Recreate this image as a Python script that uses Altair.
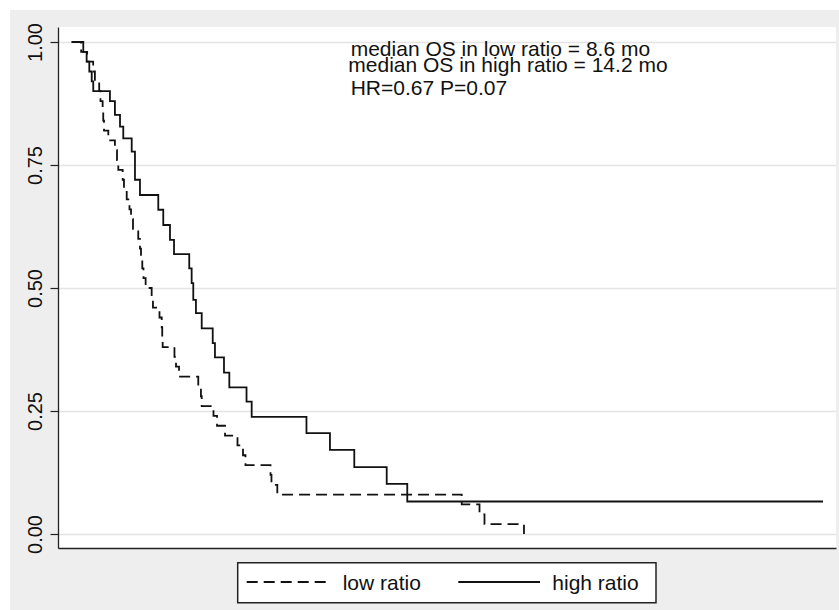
import altair as alt
import pandas as pd

# Kaplan-Meier overall survival, months since start, by ratio group
HIGH_MONTHS = [0, 1.35, 1.74, 2.05, 2.33, 2.51, 4.45, 5.03, 5.62, 6.0,
               6.98, 7.36, 7.94, 10.07, 10.65, 11.43, 11.9, 13.67, 13.95, 14.14,
               14.45, 15.12, 16.4, 16.66, 17.71, 18.33, 20.33, 20.93, 27.3, 30.03,
               32.86, 36.63, 39.02, 87.36]
HIGH_SURV = [1.0, 0.98, 0.96, 0.94, 0.92, 0.90, 0.88, 0.852, 0.828, 0.804,
             0.777, 0.72, 0.689, 0.659, 0.628, 0.598, 0.569, 0.54, 0.51, 0.476,
             0.449, 0.418, 0.388, 0.359, 0.328, 0.298, 0.269, 0.238, 0.205, 0.171,
             0.136, 0.102, 0.066, 0.066]

LOW_MONTHS = [0, 1.1, 1.8, 2.5, 2.7, 3.2, 3.35, 3.6, 3.67, 3.76,
              4.26, 5.03, 5.27, 5.42, 5.93, 6.08, 6.4, 6.72, 6.9, 7.13,
              7.74, 7.94, 8.06, 8.21, 8.35, 8.6, 9.3, 9.45, 10.21, 10.47,
              10.53, 10.58, 11.95, 12.13, 12.48, 14.72, 15.03, 15.12, 16.49, 16.9,
              17.83, 19.28, 19.92, 20.21, 23.12, 23.23, 23.91, 45.35, 47.42, 48.0,
              52.59]
LOW_SURV = [1.0, 0.98, 0.96, 0.94, 0.92, 0.90, 0.88, 0.86, 0.84, 0.82,
            0.80, 0.78, 0.76, 0.74, 0.72, 0.70, 0.68, 0.66, 0.64, 0.62,
            0.60, 0.58, 0.56, 0.54, 0.52, 0.50, 0.48, 0.46, 0.44, 0.42,
            0.40, 0.38, 0.36, 0.34, 0.32, 0.30, 0.28, 0.26, 0.24, 0.22,
            0.20, 0.18, 0.16, 0.14, 0.12, 0.10, 0.08, 0.06, 0.04, 0.02,
            0.0]

GROUPS = ["low ratio", "high ratio"]
DASHES = [[11, 6], [1, 0]]
Y_TICKS = [0, 0.25, 0.5, 0.75, 1.0]
NOTES = [
    "median OS in low ratio = 8.6 mo",
    "median OS in high ratio = 14.2 mo",
    "HR=0.67 P=0.07",
]

FONT = "Liberation Sans"
INK = "#111111"
AXIS_INK = "#222222"
W, H = 778, 521

df = pd.concat([
    pd.DataFrame({"months": LOW_MONTHS, "survival": LOW_SURV, "group": GROUPS[0]}),
    pd.DataFrame({"months": HIGH_MONTHS, "survival": HIGH_SURV, "group": GROUPS[1]}),
], ignore_index=True)

curves = alt.Chart(df).mark_line(
    interpolate="step-after", strokeWidth=1.8, color=INK
).encode(
    x=alt.X(
        "months:Q",
        scale=alt.Scale(domain=[-1.59, 88.87], nice=False, zero=False),
        axis=alt.Axis(title=None, labels=False, ticks=False, grid=False,
                      domainColor=AXIS_INK, domainWidth=1.3),
    ),
    y=alt.Y(
        "survival:Q",
        scale=alt.Scale(domain=[-0.0285, 1.0305], nice=False, zero=False),
        axis=alt.Axis(
            title=None, values=Y_TICKS, format=".2f",
            labelAngle=-90, labelAlign="center", labelBaseline="bottom",
            labelFont=FONT, labelFontSize=20, labelColor=INK, labelPadding=5,
            tickSize=8, tickColor=AXIS_INK, tickWidth=1.2,
            domainColor=AXIS_INK, domainWidth=1.3,
            grid=True, gridColor="#e4e4e4", gridWidth=1.5,
        ),
    ),
    strokeDash=alt.StrokeDash(
        "group:N",
        scale=alt.Scale(domain=GROUPS, range=DASHES),
        legend=None,
    ),
)

# statistics block in the upper part of the plot
note_pos = [(292.7, 29.0), (290.3, 45.0), (292.7, 67.5)]
notes = [
    alt.Chart(pd.DataFrame({"t": [txt]})).mark_text(
        align="left", baseline="alphabetic", font=FONT, fontSize=21, color=INK
    ).encode(text="t:N", x=alt.value(px), y=alt.value(py))
    for txt, (px, py) in zip(NOTES, note_pos)
]

one = pd.DataFrame({"k": [0]})

# boxed key below the plot: line sample followed by its group name
key_box = alt.Chart(one).mark_rect(
    fill="white", stroke=AXIS_INK, strokeWidth=1.5
).encode(x=alt.value(179.7), x2=alt.value(598), y=alt.value(535.7), y2=alt.value(575.7))

key_layers = [key_box]
key_pos = [(188.7, 270.0, 284.7), (400.3, 482.0, 494.3)]
for name, dash, (s0, s1, tx) in zip(GROUPS, DASHES, key_pos):
    key_layers.append(
        alt.Chart(one).mark_rule(color=INK, strokeWidth=2, strokeDash=dash).encode(
            x=alt.value(s0), x2=alt.value(s1), y=alt.value(555)))
    key_layers.append(
        alt.Chart(pd.DataFrame({"t": [name]})).mark_text(
            align="left", baseline="alphabetic", font=FONT, fontSize=21, color=INK
        ).encode(text="t:N", x=alt.value(tx), y=alt.value(562.5)))

# thin white margin along the left and top edges of the canvas
left_strip = alt.Chart(one).mark_rect(color="white").encode(
    x=alt.value(-58), x2=alt.value(-48), y=alt.value(-27), y2=alt.value(H + 62))
top_strip = alt.Chart(one).mark_rect(color="white").encode(
    x=alt.value(-58), x2=alt.value(W + 3), y=alt.value(-27), y2=alt.value(-17))

chart = alt.layer(left_strip, top_strip, curves, *notes, *key_layers).properties(
    width=W, height=H,
    autosize=alt.AutoSizeParams(type="none"),
    padding={"left": 58, "top": 27, "right": 3, "bottom": 62},
    background="#eeeeee",
).configure_view(fill="white", strokeWidth=0)

chart.save("out.html", embed_options={"renderer": "svg", "actions": False})
